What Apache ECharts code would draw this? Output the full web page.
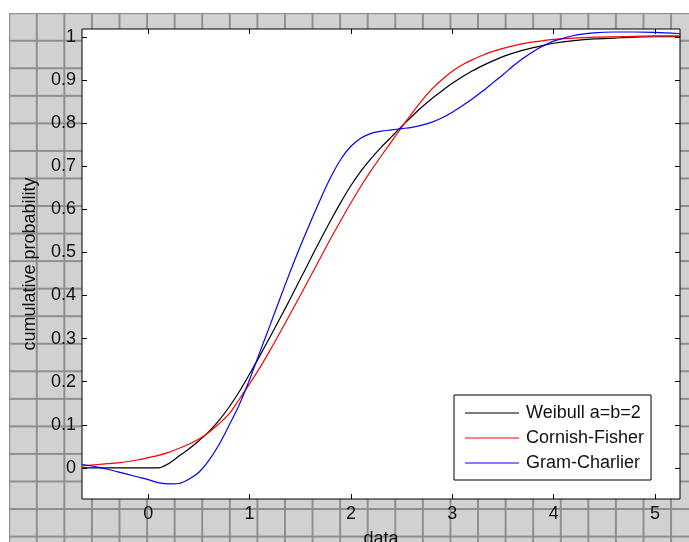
<!DOCTYPE html>
<html>
<head>
<meta charset="utf-8">
<script src="https://cdn.jsdelivr.net/npm/echarts@6/dist/echarts.min.js"></script>
<style>
  html, body { margin: 0; padding: 0; background: #ffffff; }
  #wrap { position: relative; width: 689px; height: 542px; overflow: hidden; }
  #bg {
    position: absolute; left: 9px; top: 13px; right: 0; bottom: 0;
    background-color: #d1d1d1;
    background-image:
      linear-gradient(to right, #8e8e8e 0, #8e8e8e 1.6px, transparent 1.6px),
      linear-gradient(to bottom, #8e8e8e 0, #8e8e8e 1.6px, transparent 1.6px);
    background-size: 27.58px 27.55px;
    background-position: -0.8px -0.8px;
  }
  #chart { position: absolute; left: 0; top: 0; width: 689px; height: 542px; }
</style>
</head>
<body>
<div id="wrap"><div id="bg"></div><div id="chart"></div></div>
<script>
// ---- data ----
const xValues = [-0.65, -0.5, -0.4, -0.3, -0.2, -0.1,
  0, 0.1, 0.2, 0.3, 0.4, 0.5, 0.6, 0.7, 0.8, 0.9,
  1.0, 1.1, 1.2, 1.3, 1.4, 1.5, 1.6, 1.7, 1.8, 1.9,
  2.0, 2.1, 2.2, 2.3, 2.4, 2.5, 2.6, 2.7, 2.8, 2.9,
  3.0, 3.1, 3.2, 3.3, 3.4, 3.5, 3.6, 3.7, 3.8, 3.9,
  4.0, 4.2, 4.4, 4.6, 4.8, 5.0, 5.25];

const weibull = [0, 0, 0, 0, 0, 0,
  0, 0, 0.01, 0.027, 0.044, 0.063, 0.085, 0.111, 0.142, 0.178,
  0.218, 0.26, 0.303, 0.347, 0.392, 0.438, 0.484, 0.53, 0.574, 0.616,
  0.655, 0.689, 0.718, 0.744, 0.768, 0.792, 0.815, 0.837, 0.857, 0.875,
  0.892, 0.907, 0.921, 0.933, 0.944, 0.954, 0.962, 0.969, 0.975, 0.98,
  0.985, 0.991, 0.995, 0.997, 0.999, 1.0, 1.0];

const cornishFisher = [0.005, 0.008, 0.01, 0.012, 0.015, 0.019,
  0.024, 0.029, 0.036, 0.045, 0.055, 0.067, 0.083, 0.103, 0.126, 0.16,
  0.195, 0.232, 0.272, 0.314, 0.357, 0.4, 0.444, 0.488, 0.532, 0.574,
  0.615, 0.654, 0.69, 0.724, 0.757, 0.79, 0.822, 0.852, 0.879, 0.901,
  0.92, 0.935, 0.947, 0.957, 0.966, 0.973, 0.979, 0.984, 0.988, 0.991,
  0.994, 0.997, 0.999, 1.0, 1.001, 1.002, 1.002];

const gramCharlier = [0.008, 0.002, -0.003, -0.009, -0.015, -0.021,
  -0.027, -0.034, -0.037, -0.036, -0.026, -0.01, 0.018, 0.055, 0.1, 0.148,
  0.205, 0.268, 0.33, 0.393, 0.455, 0.514, 0.57, 0.624, 0.674, 0.716,
  0.746, 0.765, 0.776, 0.781, 0.784, 0.787, 0.79, 0.795, 0.802, 0.812,
  0.825, 0.84, 0.856, 0.874, 0.893, 0.912, 0.932, 0.95, 0.966, 0.979,
  0.99, 1.003, 1.009, 1.011, 1.011, 1.01, 1.007];

const seriesNames = ['Weibull a=b=2', 'Cornish-Fisher', 'Gram-Charlier'];
const xTicks = [0, 1, 2, 3, 4, 5];
const yTicks = [0, 0.1, 0.2, 0.3, 0.4, 0.5, 0.6, 0.7, 0.8, 0.9, 1];
const xRange = [-0.654, 5.247];
const yRange = [-0.072, 1.018];
const xTitle = 'data';
const yTitle = 'cumulative probability';

// ---- chart ----
const FONT = '"Liberation Sans", Arial, sans-serif';
const TXT = '#111111';
const chart = echarts.init(document.getElementById('chart'), null, { renderer: 'canvas' });

function pairs(ys) { return xValues.map((x, i) => [x, ys[i]]); }
function fmt(v) { return String(Math.round(v * 10) / 10); }

const tickCommon = { inside: true, length: 5, lineStyle: { color: '#000', width: 1 } };
const hiddenLine = { show: false, onZero: false };

const option = {
  animation: false,
  grid: {
    left: 82, top: 29, width: 598, height: 470,
    outerBoundsMode: 'none', containLabel: false,
    show: true, backgroundColor: '#ffffff', borderColor: '#000000', borderWidth: 1
  },
  legend: {
    orient: 'vertical',
    left: 454, top: 395,
    data: seriesNames,
    icon: 'rect',
    itemWidth: 54, itemHeight: 1.2,
    itemGap: 7,
    padding: [9, 7, 8, 11],
    backgroundColor: '#ffffff',
    borderColor: '#000000', borderWidth: 1, borderRadius: 0,
    textStyle: { fontFamily: FONT, fontSize: 18, color: TXT, lineHeight: 18, padding: [0, 0, 0, 2] }
  },
  xAxis: [{
    type: 'value', position: 'bottom', min: xRange[0], max: xRange[1],
    splitLine: { show: false }, axisLine: hiddenLine,
    axisTick: Object.assign({ customValues: xTicks }, tickCommon),
    axisLabel: { customValues: xTicks, formatter: fmt, margin: 6, fontFamily: FONT, fontSize: 18, color: TXT },
    name: xTitle, nameLocation: 'middle', nameGap: 31,
    nameTextStyle: { fontFamily: FONT, fontSize: 18, color: TXT }
  }, {
    type: 'value', position: 'top', min: xRange[0], max: xRange[1],
    splitLine: { show: false }, axisLine: hiddenLine,
    axisTick: Object.assign({ customValues: xTicks }, tickCommon),
    axisLabel: { show: false }
  }],
  yAxis: [{
    type: 'value', position: 'left', min: yRange[0], max: yRange[1],
    splitLine: { show: false }, axisLine: hiddenLine,
    axisTick: Object.assign({ customValues: yTicks }, tickCommon),
    axisLabel: { customValues: yTicks, formatter: fmt, margin: 6, fontFamily: FONT, fontSize: 18, color: TXT },
    name: yTitle, nameLocation: 'middle', nameGap: 43, nameRotate: 90,
    nameTextStyle: { fontFamily: FONT, fontSize: 18, color: TXT }
  }, {
    type: 'value', position: 'right', min: yRange[0], max: yRange[1],
    splitLine: { show: false }, axisLine: hiddenLine,
    axisTick: Object.assign({ customValues: yTicks }, tickCommon),
    axisLabel: { show: false }
  }],
  series: [
    { name: seriesNames[0], type: 'line', data: pairs(weibull), color: '#000000' },
    { name: seriesNames[1], type: 'line', data: pairs(cornishFisher), color: '#ff0000' },
    { name: seriesNames[2], type: 'line', data: pairs(gramCharlier), color: '#0000ff' }
  ].map(s => Object.assign(s, {
    showSymbol: false, symbol: 'none', smooth: 0.3,
    lineStyle: { width: 1.2, color: s.color }, xAxisIndex: 0, yAxisIndex: 0
  }))
};
chart.setOption(option);
</script>
</body>
</html>
